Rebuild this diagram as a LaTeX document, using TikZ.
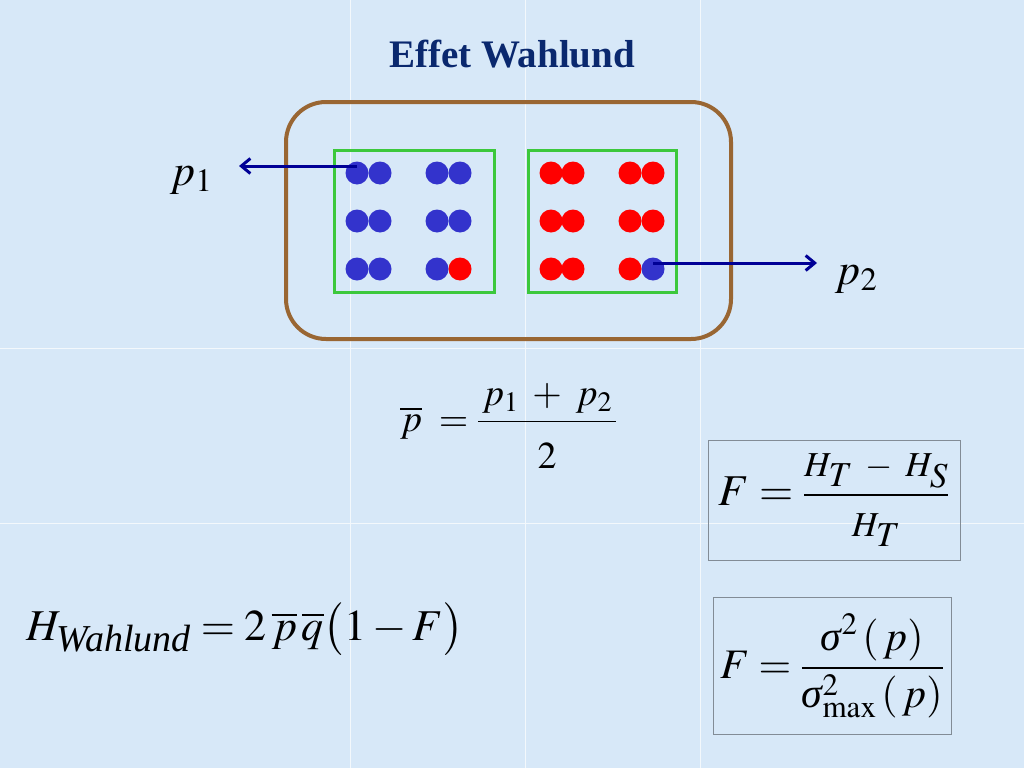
\documentclass[tikz,border=0pt]{standalone}
\usepackage{amsmath}
\usepackage{mathptmx}
\usepackage[no-math]{fontspec}
\setmainfont{Liberation Serif}
\usetikzlibrary{arrows.meta}
\definecolor{bgblue}{RGB}{215,232,248}
\definecolor{titleblue}{RGB}{10,40,110}
\definecolor{boxbrown}{RGB}{153,102,51}
\definecolor{boxgreen}{RGB}{60,200,60}
\definecolor{dotblue}{RGB}{51,51,204}
\definecolor{dotred}{RGB}{255,0,0}
\definecolor{arrowblue}{RGB}{0,0,150}
\definecolor{framegray}{RGB}{130,140,150}
\tikzset{>={Straight Barb[length=9pt,width=15pt]}}
\newcommand{\sig}{\mbox{\itshape σ}}

\begin{document}
\begin{tikzpicture}[x=1pt,y=-1pt]
\useasboundingbox (0,0) rectangle (1024,768);
\fill[bgblue] (0,0) rectangle (1024,768);
\draw[white,line width=1pt,opacity=0.7] (350,0) -- (350,768) (525,0) -- (525,768)
    (700,0) -- (700,768) (0,348) -- (1024,348) (0,523) -- (1024,523);

\node[font=\fontsize{39}{44}\selectfont\bfseries,text=titleblue,anchor=base] (title) at (512,67) {Effet Wahlund};

% population totale et sous-populations
\draw[boxbrown,line width=4pt,rounded corners=40pt] (286,102) rectangle (731,339);
\draw[boxgreen,line width=3pt] (334,150) rectangle (494,292);
\draw[boxgreen,line width=3pt] (528,150) rectangle (676,292);

\begin{scope}[every node/.style={circle,inner sep=0pt,minimum size=23pt,fill=dotblue}]
\node (a1) at (357,173) {};
\node (a2) at (380,173) {};
\node (a3) at (437,173) {};
\node (a4) at (460,173) {};
\node (a5) at (357,221) {};
\node (a6) at (380,221) {};
\node (a7) at (437,221) {};
\node (a8) at (460,221) {};
\node (a9) at (357,269) {};
\node (a10) at (380,269) {};
\node (a11) at (437,269) {};
\node (b12) at (653,269) {};
\end{scope}
\begin{scope}[every node/.style={circle,inner sep=0pt,minimum size=23pt,fill=dotred}]
\node (a12) at (460,269) {};
\node (b1) at (551,173) {};
\node (b2) at (573,173) {};
\node (b3) at (630,173) {};
\node (b4) at (653,173) {};
\node (b5) at (551,221) {};
\node (b6) at (573,221) {};
\node (b7) at (630,221) {};
\node (b8) at (653,221) {};
\node (b9) at (551,269) {};
\node (b10) at (573,269) {};
\node (b11) at (630,269) {};
\end{scope}

\begin{scope}[every node/.style={anchor=base west,inner sep=0pt,font=\fontsize{44}{48}\selectfont}]
\node (p1) at (170,185) {$p_1$};
\node (p2) at (835,284) {$p_2$};
\end{scope}
\coordinate (p1end) at (239,166);
\coordinate (p2end) at (817,263);
\draw[->,arrowblue,line width=3pt] (a1.center |- p1end) -- (p1end);
\draw[->,arrowblue,line width=3pt] (b12.center |- p2end) -- (p2end);

% formules
\node[anchor=base west,inner sep=0pt,font=\fontsize{38}{42}\selectfont] (pbar) at (400,431)
    {$\displaystyle \overline{p}\;=\frac{\,p_1\;+\;p_2\,}{\rule{0pt}{1.1em}2}$};
\node[draw=framegray,line width=1pt,minimum width=252pt,minimum height=120pt,inner sep=0pt,
    font=\fontsize{44}{48}\selectfont] (fst) at (834,500)
    {$\displaystyle F = \frac{\mbox{\fontsize{35}{38}\selectfont$H_{\textstyle T}\;-\;H_{\textstyle S}$}}
    {\mbox{\fontsize{35}{38}\selectfont$H_{\textstyle T}$}}$};
\node[draw=framegray,line width=1pt,minimum width=238pt,minimum height=137pt,inner sep=0pt,
    font=\fontsize{42}{46}\selectfont] (fsig) at (832,666)
    {$\displaystyle F = \frac{\sig^2\,(\,p)}{\sig^2_{\max}\,(\,p)}$};
\node[anchor=base west,inner sep=0pt,font=\fontsize{44}{48}\selectfont] (hw) at (26,640)
    {$H_{\mbox{\fontsize{38}{42}\selectfont\itshape Wahlund}} = 2\,\overline{p}\,\overline{q}\bigl(1-F\bigr)$};
\end{tikzpicture}
\end{document}
